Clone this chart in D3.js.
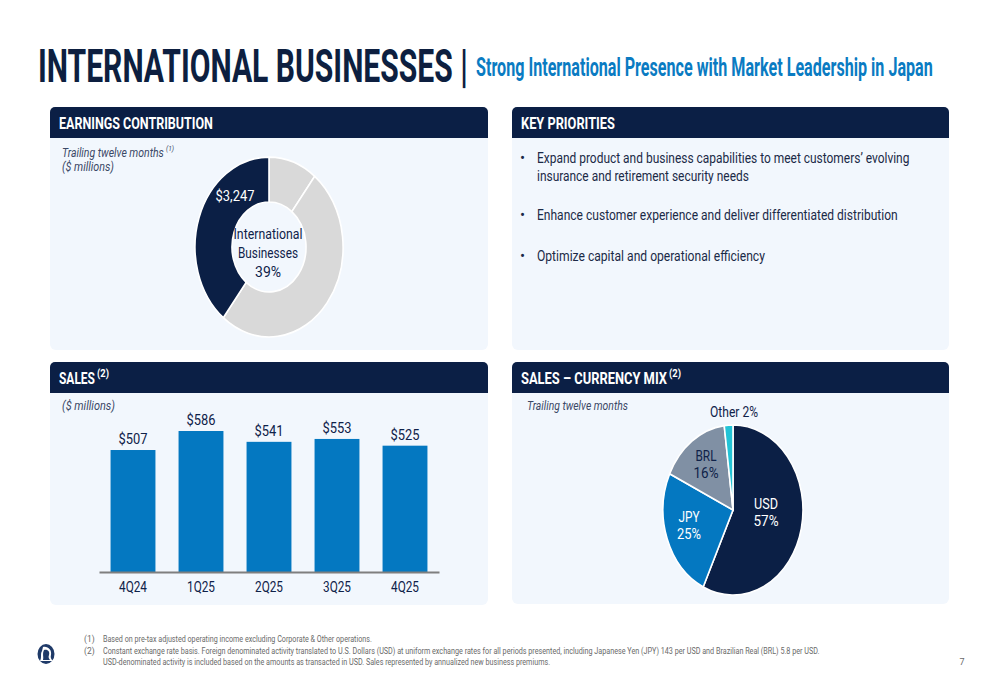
<!DOCTYPE html>
<html lang="en">
<head>
<meta charset="UTF-8">
<title>International Businesses</title>
<script src="https://cdn.jsdelivr.net/npm/d3@7"></script>
<style>
  body { margin: 0; background: #ffffff; font-family: Roboto, 'Noto Sans', sans-serif; }
  svg { display: block; }
</style>
</head>
<body>
<svg id="slide" width="1000" height="685"></svg>
<script>
// ---- data ----
const earnSegments = ['Other segment A', 'Other segment B', 'International Businesses'];
const earnShares = [10.6, 50.0, 39.4];
const intlEarnings = '$3,247';
const intlShareLabel = '39%';

const quarters = ['4Q24', '1Q25', '2Q25', '3Q25', '4Q25'];
const sales = [507, 586, 541, 553, 525];

const currencies = ['USD', 'JPY', 'BRL', 'Other'];
const currencyMix = [57, 25, 16, 2];

const priorities = [
  ['Expand product and business capabilities to meet customers\u2019 evolving', 'insurance and retirement security needs'],
  ['Enhance customer experience and deliver differentiated distribution'],
  ['Optimize capital and operational efficiency']
];

const footnotes = [
  ['(1)', 'Based on pre-tax adjusted operating income excluding Corporate & Other operations.'],
  ['(2)', 'Constant exchange rate basis. Foreign denominated activity translated to U.S. Dollars (USD) at uniform exchange rates for all periods presented, including Japanese Yen (JPY) 143 per USD and Brazilian Real (BRL) 5.8 per USD.'],
  ['', 'USD-denominated activity is included based on the amounts as transacted in USD. Sales represented by annualized new business premiums.']
];

// ---- style ----
const NAVY = '#0b1f45';
const TEXT = '#0f2249';
const BLUE = '#0478c1';
const PANEL_BG = '#f2f7fd';
const SY = 1.215; // slide is stretched vertically

const svg = d3.select('#slide');

// squeeze a text element horizontally so it spans `w` px
function squeeze(t, x, y, w) {
  const natural = t.node().getComputedTextLength();
  const sx = natural > 0 ? w / natural : 1;
  t.attr('x', 0).attr('y', 0).attr('transform', `translate(${x},${y}) scale(${sx},1)`);
}

function label(g, x, y, s, o = {}) {
  const t = g.append('text')
    .attr('x', x).attr('y', y)
    .attr('font-size', o.size || 14)
    .attr('font-weight', o.weight || 400)
    .attr('font-style', o.italic ? 'italic' : 'normal')
    .attr('fill', o.fill || TEXT)
    .attr('text-anchor', o.anchor || 'start')
    .text(s);
  if (o.width) squeeze(t, x, y, o.width);
  return t;
}

// ---- title ----
label(svg, 38, 82, 'INTERNATIONAL BUSINESSES |', { size: 47, weight: 700, fill: '#0d1f40', width: 430 });
label(svg, 476, 76, 'Strong International Presence with Market Leadership in Japan', { size: 25, weight: 700, fill: '#0a7bc2', width: 457 });

// ---- panels ----
const panels = [
  { x: 50, y: 107, w: 438, h: 243, title: 'EARNINGS CONTRIBUTION', tw: 154 },
  { x: 512, y: 107, w: 437, h: 243, title: 'KEY PRIORITIES', tw: 94 },
  { x: 50, y: 362, w: 438, h: 243, title: 'SALES', tw: 36, sup: '(2)' },
  { x: 512, y: 362, w: 437, h: 242, title: 'SALES \u2013 CURRENCY MIX', tw: 146, sup: '(2)' }
];
const HEAD_H = 31;

panels.forEach(p => {
  const g = svg.append('g');
  g.append('rect').attr('x', p.x).attr('y', p.y).attr('width', p.w).attr('height', p.h)
    .attr('rx', 6).attr('fill', PANEL_BG);
  g.append('rect').attr('x', p.x).attr('y', p.y).attr('width', p.w).attr('height', HEAD_H)
    .attr('rx', 5).attr('fill', NAVY);
  g.append('rect').attr('x', p.x).attr('y', p.y + 10).attr('width', p.w).attr('height', HEAD_H - 10)
    .attr('fill', NAVY);
  label(g, p.x + 9, p.y + 22, p.title, { size: 17, weight: 700, fill: '#ffffff', width: p.tw });
  if (p.sup) label(g, p.x + 11 + p.tw, p.y + 15, p.sup, { size: 10.5, weight: 700, fill: '#ffffff', width: 12 });
});

// ---- earnings contribution donut ----
{
  const g = svg.append('g');
  label(g, 62, 157, 'Trailing twelve months', { size: 12.5, italic: true, fill: '#3a4866', width: 102 });
  label(g, 166, 151, '(1)', { size: 8, italic: true, fill: '#3a4866', width: 8 });
  label(g, 62, 171, '($ millions)', { size: 12.5, italic: true, fill: '#3a4866', width: 52 });

  const cx = 269, cy = 247, R = 74;
  const pie = d3.pie().sort(null).value(d => d)(earnShares);
  const arc = d3.arc().innerRadius(R * 0.5).outerRadius(R);
  const colors = d3.scaleOrdinal().domain(earnSegments).range(['#d9d9d9', '#d9d9d9', NAVY]);

  g.append('g').attr('transform', `translate(${cx},${cy}) scale(1,${SY})`)
    .selectAll('path').data(pie).join('path')
    .attr('d', arc)
    .attr('fill', (d, i) => colors(earnSegments[i]))
    .attr('stroke', '#ffffff').attr('stroke-width', 1.6)
    .attr('vector-effect', 'non-scaling-stroke');

  label(g, cx - 34, cy - 46, intlEarnings, { size: 15.5, fill: '#ffffff', anchor: 'middle', width: 39 });
  label(g, cx - 1, cy - 8, 'International', { size: 15.5, anchor: 'middle', width: 69 });
  label(g, cx - 1, cy + 11, 'Businesses', { size: 15.5, anchor: 'middle', width: 60 });
  label(g, cx - 1, cy + 30, intlShareLabel, { size: 15.5, anchor: 'middle', width: 26 });
}

// ---- key priorities ----
{
  const g = svg.append('g');
  const lineWidths = [[373, 212], [361], [228]];
  const tops = [163, 220, 261];
  priorities.forEach((lines, i) => {
    label(g, 520, tops[i], '\u2022', { size: 15, fill: '#1b2a47' });
    lines.forEach((s, j) => {
      label(g, 537, tops[i] + j * 18, s, { size: 15, fill: '#1b2a47', width: lineWidths[i][j] });
    });
  });
}

// ---- sales bar chart ----
{
  const g = svg.append('g');
  label(g, 62, 410, '($ millions)', { size: 12.5, italic: true, fill: '#3a4866', width: 53 });

  const x = d3.scaleBand().domain(quarters).range([99, 439]).paddingInner(0.34).paddingOuter(0.17);
  const y = d3.scaleLinear().domain([0, 600]).range([572, 572 - 600 * 0.2406]);

  g.selectAll('rect.bar').data(sales).join('rect')
    .attr('class', 'bar')
    .attr('x', (d, i) => x(quarters[i]))
    .attr('y', d => y(d))
    .attr('width', x.bandwidth())
    .attr('height', d => y(0) - y(d))
    .attr('fill', BLUE);

  sales.forEach((d, i) => {
    label(g, x(quarters[i]) + x.bandwidth() / 2, y(d) - 6, '$' + d,
      { size: 15, anchor: 'middle', width: 29 });
  });

  const axis = g.append('g').attr('transform', `translate(0,${y(0)})`)
    .call(d3.axisBottom(x).tickSize(0).tickPadding(10));
  axis.select('.domain').attr('stroke', '#7f7f7f').attr('stroke-width', 2);
  axis.selectAll('text')
    .attr('font-size', 14).attr('font-family', 'Roboto, sans-serif')
    .attr('fill', TEXT)
    .each(function () {
      const t = d3.select(this);
      const sx = 28 / this.getComputedTextLength();
      t.attr('transform', `scale(${sx},1)`);
    });
}

// ---- currency mix pie ----
{
  const g = svg.append('g');
  label(g, 527, 410, 'Trailing twelve months', { size: 12.5, italic: true, fill: '#3a4866', width: 101 });

  const cx = 733, cy = 510, R = 70;
  const pie = d3.pie().sort(null).value(d => d)(currencyMix);
  const arc = d3.arc().innerRadius(0).outerRadius(R);
  const colors = d3.scaleOrdinal().domain(currencies).range([NAVY, BLUE, '#8090a4', '#22c3d6']);

  g.append('g').attr('transform', `translate(${cx},${cy}) scale(1,${SY})`)
    .selectAll('path').data(pie).join('path')
    .attr('d', arc)
    .attr('fill', (d, i) => colors(currencies[i]))
    .attr('stroke', '#ffffff').attr('stroke-width', 1.6)
    .attr('vector-effect', 'non-scaling-stroke');

  // label placement (offsets from pie centre, first-line baseline)
  const placement = {
    USD: { dx: 33, dy: -1, fill: '#ffffff', w: [24, 25] },
    JPY: { dx: -44, dy: 12, fill: '#ffffff', w: [21, 24] },
    BRL: { dx: -27, dy: -49, fill: TEXT, w: [21, 25] }
  };
  currencies.forEach((c, i) => {
    const p = placement[c];
    if (!p) return;
    label(g, cx + p.dx, cy + p.dy, c, { size: 14.5, fill: p.fill, anchor: 'middle', width: p.w[0] });
    label(g, cx + p.dx, cy + p.dy + 16.5, currencyMix[i] + '%', { size: 14.5, fill: p.fill, anchor: 'middle', width: p.w[1] });
  });
  label(g, cx + 1, 417, 'Other ' + currencyMix[3] + '%', { size: 14.5, anchor: 'middle', width: 48 });
}

// ---- footer ----
{
  const g = svg.append('g');
  const base = [642, 654, 665];
  const widths = [269, 717, 448];
  footnotes.forEach((f, i) => {
    if (f[0]) label(g, 84, base[i], f[0], { size: 8.5, fill: '#6a6a6a' });
    label(g, 103, base[i], f[1], { size: 8.5, fill: '#6a6a6a', width: widths[i] });
  });
  label(g, 962, 665, '7', { size: 9, fill: '#6a6a6a', anchor: 'middle' });

  // logo
  const logo = g.append('g').attr('transform', 'translate(46,654)');
  logo.append('ellipse').attr('rx', 8.5).attr('ry', 10).attr('fill', '#1f3a68');
  logo.append('path')
    .attr('d', 'M-3,-7 C2,-8 6,-4 5,1 C4,4 6,6 7,7 L-6,7 C-4,3 -6,0 -4,-3 Z')
    .attr('fill', '#ffffff');
  logo.append('path')
    .attr('d', 'M-2,-4 C2,-5 4,-2 3,1 C2,3 3,5 4,6 L-3,6 C-2,3 -4,0 -2,-4 Z')
    .attr('fill', '#1f3a68');
}
</script>
</body>
</html>
